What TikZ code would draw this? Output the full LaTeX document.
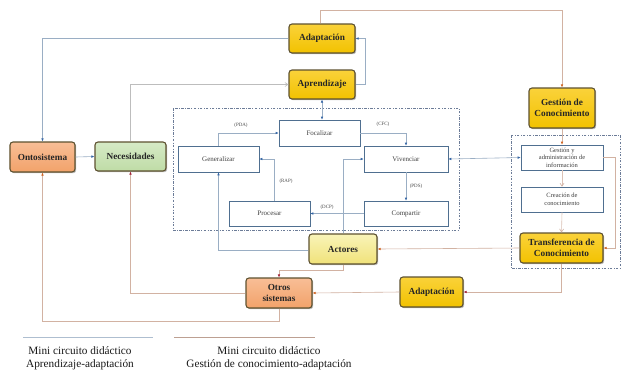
\documentclass[tikz,border=0pt]{standalone}
\usepackage{fontspec}
\setmainfont{Liberation Serif}
\usetikzlibrary{arrows.meta,shadows}
\definecolor{goldf}{HTML}{F2C200}
\definecolor{goldt}{HTML}{FAD23A}
\definecolor{orgf}{HTML}{F2A26A}
\definecolor{orgt}{HTML}{F8BE96}
\definecolor{grnf}{HTML}{BFDCA6}
\definecolor{grnt}{HTML}{D6EAC6}
\definecolor{yelf}{HTML}{F0E27A}
\definecolor{yelt}{HTML}{F9F4B8}
\definecolor{edgec}{HTML}{5E5230}
\definecolor{wedge}{HTML}{4F6F90}
\definecolor{bline}{HTML}{9AAEC4}
\definecolor{barr}{HTML}{3566A6}
\definecolor{tline}{HTML}{D2B2A2}
\definecolor{oarr}{HTML}{D0621E}
\definecolor{rarr}{HTML}{A02035}
\definecolor{gline}{HTML}{BDBDBD}
\definecolor{dashc}{HTML}{6C7C98}
\tikzset{
  cbox/.style={draw=edgec, line width=1.1pt, rounded corners=3bp, align=center,
    font=\bfseries\fontsize{9.3}{10.8}\selectfont, inner sep=1bp, text=black!85,
    drop shadow={shadow xshift=1.2bp, shadow yshift=-1.2bp, fill=black!45, opacity=0.6}},
  goldbox/.style={cbox, top color=goldt, bottom color=goldf},
  orgbox/.style={cbox, top color=orgt, bottom color=orgf},
  grnbox/.style={cbox, top color=grnt, bottom color=grnf},
  yelbox/.style={cbox, top color=yelt, bottom color=yelf},
  wbox/.style={draw=wedge, line width=0.6pt, fill=white, align=center, inner sep=1bp,
    font=\fontsize{7}{8}\selectfont, text=black!75},
  lab/.style={font=\fontsize{5}{6}\selectfont, text=black!70},
  bl/.style={draw=bline, line width=0.6pt, -{Latex[length=3bp,width=2.6bp,color=barr]}},
  blb/.style={draw=bline, line width=0.6pt, {Latex[length=3bp,width=2.6bp,color=barr]}-{Latex[length=3bp,width=2.6bp,color=barr]}},
  br/.style={draw=tline, line width=0.6pt, -{Latex[length=3bp,width=2.6bp,color=oarr]}},
  rd/.style={draw=tline, line width=0.6pt, -{Latex[length=3bp,width=2.6bp,color=rarr]}},
  gl/.style={draw=gline, line width=0.6pt, -{Straight Barb[length=3bp,width=4bp,color=gline]}},
  lt/.style={draw=tline!80, line width=0.6pt, -{Straight Barb[length=3bp,width=4bp,color=tline]}},
  dbox/.style={draw=dashc, line width=0.6pt, dash pattern=on 2.5bp off 1.5bp on 0.6bp off 1.5bp},
  foot/.style={font=\fontsize{11.3}{13}\selectfont, align=center, text=black!90},
}
\begin{document}
\begin{tikzpicture}[x=1bp,y=-1bp]
\useasboundingbox (0,0) rectangle (621,373);
\fill[white] (0,0) rectangle (621,373);
% dashed frames
\draw[dbox] (173,108) rectangle (459,230);
\draw[dbox] (511,135) rectangle (620,268);
% nodes
\node[goldbox, minimum width=66bp, minimum height=29bp] (adaptT) at (322,38.5) {Adaptación};
\node[goldbox, minimum width=66bp, minimum height=29bp] (aprend) at (322,84.5) {Aprendizaje};
\node[orgbox, minimum width=65bp, minimum height=30bp] (onto) at (42.5,157) {Ontosistema};
\node[grnbox, minimum width=71bp, minimum height=29bp] (neces) at (130.5,156.5) {Necesidades};
\node[goldbox, minimum width=66bp, minimum height=40bp] (gestion) at (562,108) {Gestión de\\Conocimiento};
\node[wbox, minimum width=81bp, minimum height=26bp] (focal) at (319.5,133) {Focalizar};
\node[wbox, minimum width=81bp, minimum height=26bp] (gener) at (218.5,159) {Generalizar};
\node[wbox, minimum width=84bp, minimum height=26bp] (viven) at (406,159) {Vivenciar};
\node[wbox, minimum width=81bp, minimum height=25bp] (proces) at (269.5,213.5) {Procesar};
\node[wbox, minimum width=84bp, minimum height=25bp] (compart) at (406,213.5) {Compartir};
\node[wbox, minimum width=82bp, minimum height=25bp, font=\fontsize{6.5}{7.4}\selectfont] (gya) at (562,157.5) {Gestión y\\administración de\\información};
\node[wbox, minimum width=82bp, minimum height=25bp, font=\fontsize{6.5}{7.8}\selectfont] (crea) at (562,199.5) {Creación de\\conocimiento};
\node[goldbox, minimum width=83bp, minimum height=30bp] (transf) at (561.5,248) {Transferencia de\\Conocimiento};
\node[yelbox, minimum width=68bp, minimum height=30bp] (actores) at (343,249) {Actores};
\node[orgbox, minimum width=66bp, minimum height=30bp] (otros) at (279,293) {Otros\\sistemas};
\node[goldbox, minimum width=63bp, minimum height=30bp] (adaptB) at (431.5,292) {Adaptación};
% labels
\node[lab] (lpda) at (241,125) {(PDA)};
\node[lab] (lcfc) at (383,124) {(CFC)};
\node[lab] (lrap) at (286,181) {(RAP)};
\node[lab] (lpds) at (416,186) {(PDS)};
\node[lab] (ldcp) at (327,207) {(DCP)};
% connectors
\coordinate (topY) at (0,10);
\draw[bl] (adaptT.west) -| (onto.north);
\draw[br] ([xshift=-2bp]adaptT.north) -- ([xshift=-2bp]adaptT.north |- topY) -| (gestion.north);
\draw[bl] (aprend.east) -- ++(10,0) |- (adaptT.east);
\draw[gl] (neces.north) |- (aprend.west);
\draw[blb] (aprend.south) -- (aprend.south |- focal.north);
\draw[bl] (onto.east) -- (neces.west);
\draw[bl] (gener.north) |- (focal.west);
\draw[bl] (focal.east) -| (viven.north);
\draw[bl] (viven.south) -- (compart.north);
\draw[bl] (compart.west) -- (proces.east);
\draw[bl] ([xshift=5bp]proces.north) |- (gener.east);
\draw[blb] (viven.east) -- (gya.west);
\draw[br] (gestion.south) -- (gya.north);
\draw[lt] (gya.south) -- (crea.north);
\draw[lt] (crea.south) -- (transf.north);
\draw[br] (gya.east) -- ++(12,0) |- (transf.east);
\draw[br] (transf.west) -- (actores.east);
\draw[rd] (transf.south) |- (adaptB.east);
\draw[br] (adaptB.west) -- (otros.east);
\draw[bl] ([yshift=-1bp]actores.west) -| (gener.south);
\draw[bl] (actores.north) |- (viven.west);
\draw[rd] (actores.south) -- ++(0,6) -| (otros.north);
\draw[rd] (otros.west) -| (neces.south);
\draw[br] (otros.south) -- ++(0,13) -| (onto.south);
% footer
\coordinate (f1a) at (23,337); \coordinate (f1b) at (153,337);
\coordinate (f2a) at (174,337); \coordinate (f2b) at (315,337);
\draw[bline!80, line width=0.7pt] (f1a) -- (f1b);
\draw[tline!90!black, line width=0.7pt] (f2a) -- (f2b);
\node[foot] (t1) at (80,358.5) {Mini circuito didáctico\\Aprendizaje-adaptación};
\node[foot] (t2) at (269,358.5) {Mini circuito didáctico\\Gestión de conocimiento-adaptación};
\end{tikzpicture}
\end{document}
